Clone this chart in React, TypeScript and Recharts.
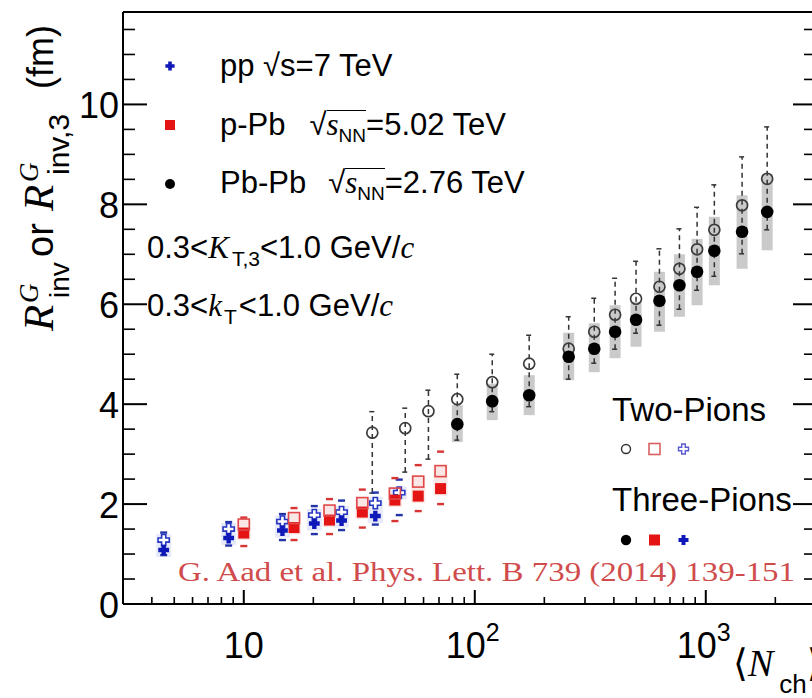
import React from 'react';
import { ComposedChart, Scatter, XAxis, YAxis, ErrorBar } from 'recharts';

const SANS = '"Liberation Sans", Arial, Helvetica, sans-serif';
const SERIF = '"Liberation Serif", "Times New Roman", serif';

// ---- Pb-Pb, sqrt(sNN) = 2.76 TeV ----
const pbMult = [36, 50, 63, 84, 119, 172, 255, 329, 405, 499, 630, 769, 917, 1089, 1436, 1844];
const pbTwoPion = [3.43, 3.52, 3.86, 4.1, 4.44, 4.81, 5.11, 5.45, 5.79, 6.11, 6.35, 6.71, 7.1, 7.49, 7.98, 8.51];
const pbTwoPionHi = [3.85, 3.92, 4.28, 4.6, 5.0, 5.38, 5.75, 6.12, 6.52, 6.86, 7.11, 7.51, 7.94, 8.39, 8.95, 9.55];
const pbTwoPionLo = [2.22, 2.64, 2.9, 3.6, 4.06, 4.18, 4.95, 5.11, 5.45, 5.69, 6.07, 6.38, 6.65, 7.07, 7.45, 7.85];
const pbThreeMult = [84, 119, 172, 255, 329, 405, 499, 630, 769, 917, 1089, 1436, 1844];
const pbThreePion = [3.6, 4.06, 4.18, 4.95, 5.11, 5.45, 5.69, 6.07, 6.38, 6.65, 7.07, 7.45, 7.85];
const pbThreePionLo = [3.28, 3.85, 3.95, 4.5, 4.82, 5.1, 5.42, 5.58, 5.9, 6.28, 6.56, 7.01, 7.49];
const pbSysLo = [3.24, 3.68, 3.78, 4.48, 4.64, 4.92, 5.15, 5.45, 5.75, 5.98, 6.38, 6.71, 7.08];
const pbSysHi = [3.98, 4.41, 4.58, 5.43, 5.62, 5.98, 6.05, 6.65, 7.0, 7.31, 7.75, 8.18, 8.6];

// ---- p-Pb, sqrt(sNN) = 5.02 TeV ----
const ppbMult = [10, 16.5, 23.5, 32.6, 45.1, 56.9, 71.1];
const ppbTwoPion = [1.59, 1.72, 1.87, 2.02, 2.21, 2.45, 2.66];
const ppbThreePion = [1.42, 1.53, 1.68, 1.84, 2.08, 2.16, 2.31];
const ppbCapHi = [1.73, 1.92, 2.1, 2.29, 2.52, 2.78, 3.05];
const ppbCapLo = [1.16, 1.28, 1.4, 1.53, 1.66, 1.86, 2.0];

// ---- pp, sqrt(s) = 7 TeV ----
const ppMult = [4.5, 8.6, 14.7, 20.2, 26.5, 37.1, 47.1];
const ppTwoPion = [1.28, 1.5, 1.65, 1.78, 1.84, 2.02, 2.23];
const ppThreeMult = [4.5, 8.6, 14.7, 20.2, 26.5, 37.1];
const ppThreePion = [1.08, 1.32, 1.47, 1.61, 1.67, 1.76];
const ppCapHi = [1.43, 1.64, 1.8, 1.96, 2.07, 2.23, 2.49];
const ppCapLo = [0.98, 1.17, 1.28, 1.4, 1.48, 1.59, 1.78];

// ---- axes ----
const X_DOMAIN: [number, number] = [3, 3000];
const Y_DOMAIN: [number, number] = [0, 11.85];
const xMajorTicks = [10, 100, 1000];
const xMajorLabels = ['10', '10|2', '10|3'];
const xTicks = [4, 5, 6, 7, 8, 9, 10, 20, 30, 40, 50, 60, 70, 80, 90, 100, 200, 300, 400, 500, 600, 700, 800, 900, 1000, 2000];
const yTicks = [0, 0.5, 1, 1.5, 2, 2.5, 3, 3.5, 4, 4.5, 5, 5.5, 6, 6.5, 7, 7.5, 8, 8.5, 9, 9.5, 10, 10.5, 11, 11.5];
const yMajorTicks = [0, 2, 4, 6, 8, 10];
const yMajorLabels = ['0', '2', '4', '6', '8', '10'];

// ---- tables for the series ----
const pbTwoData = pbMult.map((n, i) => ({
  n,
  v: pbTwoPion[i],
  err: [pbTwoPion[i] - pbTwoPionLo[i], pbTwoPionHi[i] - pbTwoPion[i]],
}));
const pbThreeData = pbThreeMult.map((n, i) => ({
  n,
  v: pbThreePion[i],
  err: [pbThreePion[i] - pbThreePionLo[i], 0],
  sys: [pbThreePion[i] - pbSysLo[i], pbSysHi[i] - pbThreePion[i]],
}));
const ppbTwoData = ppbMult.map((n, i) => ({ n, v: ppbTwoPion[i] }));
const ppbThreeData = ppbMult.map((n, i) => ({ n, v: ppbThreePion[i] }));
const ppbCapData = [
  ...ppbMult.map((n, i) => ({ n, v: ppbCapHi[i] })),
  ...ppbMult.map((n, i) => ({ n, v: ppbCapLo[i] })),
];
const ppbHaloData = ppbMult.map((n, i) => ({
  n,
  v: ppbTwoPion[i],
  halo: [ppbTwoPion[i] - ppbThreePion[i] + 0.14, 0.1],
}));
const ppTwoData = ppMult.map((n, i) => ({ n, v: ppTwoPion[i] }));
const ppThreeData = ppThreeMult.map((n, i) => ({ n, v: ppThreePion[i] }));
const ppCapData = [
  ...ppMult.map((n, i) => ({ n, v: ppCapHi[i] })),
  ...ppMult.map((n, i) => ({ n, v: ppCapLo[i] })),
];
const ppHaloData = ppMult.map((n, i) => ({
  n,
  v: ppTwoPion[i],
  halo: [ppTwoPion[i] - (i < ppThreePion.length ? ppThreePion[i] : ppTwoPion[i]) + 0.14, 0.12],
}));

// ---- marker shapes ----
const crossPath = (cx: number, cy: number, a: number, t: number) =>
  `M${cx - t},${cy - a}H${cx + t}V${cy - t}H${cx + a}V${cy + t}H${cx + t}V${cy + a}H${cx - t}V${cy + t}H${cx - a}V${cy - t}H${cx - t}Z`;

const BLUE = '#0e18b8';
const RED = '#e41414';

const OpenCircle = (p: any) => (
  <circle cx={p.cx} cy={p.cy} r={5.5} fill="none" stroke="#3c3c3c" strokeWidth={1.7} />
);
const FilledCircle = (p: any) => <circle cx={p.cx} cy={p.cy} r={6.3} fill="#000" />;
const OpenSquare = (p: any) => (
  <rect x={p.cx - 5.5} y={p.cy - 5.5} width={11} height={11} fill="none" stroke="#e04848" strokeWidth={1.6} />
);
const FilledSquare = (p: any) => (
  <rect x={p.cx - 5.5} y={p.cy - 5.5} width={11} height={11} fill={RED} />
);
const OpenCross = (p: any) => (
  <path d={crossPath(p.cx, p.cy, 5.6, 2.1)} fill="#fff" stroke="#2636c0" strokeWidth={1.6} />
);
const FilledCross = (p: any) => <path d={crossPath(p.cx, p.cy, 5.4, 2.2)} fill={BLUE} />;
const BlueCap = (p: any) => (
  <line x1={p.cx - 3.5} x2={p.cx + 3.5} y1={p.cy} y2={p.cy} stroke="#2234a8" strokeWidth={2.4} />
);
const RedCap = (p: any) => (
  <line x1={p.cx - 3.5} x2={p.cx + 3.5} y1={p.cy} y2={p.cy} stroke="#d83434" strokeWidth={2.4} />
);
const NoMarker = () => <g />;

// ---- axis ticks (ROOT style, pointing into the frame) ----
const supLabel = (label: string) => {
  const [base, exp] = label.split('|');
  return { base, exp };
};

const BottomTick = (props: any) => {
  const { x, y, payload } = props;
  const idx = xMajorTicks.indexOf(payload.value);
  const major = idx >= 0;
  let label = null;
  if (major) {
    const { base, exp } = supLabel(xMajorLabels[idx]);
    label = (
      <text x={exp ? x - 2 : x} y={y + 54} textAnchor="middle" fontFamily={SANS} fontSize={36} fill="#000">
        {base}
        {exp ? (
          <tspan fontSize={25} dy={-17}>
            {exp}
          </tspan>
        ) : null}
      </text>
    );
  }
  return (
    <g>
      <line x1={x} x2={x} y1={y} y2={y - (major ? 14 : 7)} stroke="#000" strokeWidth={major ? 2 : 1.6} />
      {label}
    </g>
  );
};

const TopTick = (props: any) => {
  const { x, y, payload } = props;
  const major = xMajorTicks.indexOf(payload.value) >= 0;
  return <line x1={x} x2={x} y1={y} y2={y + (major ? 13 : 6)} stroke="#000" strokeWidth={major ? 2 : 1.6} />;
};

const LeftTick = (props: any) => {
  const { x, y, payload } = props;
  const idx = yMajorTicks.indexOf(payload.value);
  const major = idx >= 0;
  return (
    <g>
      <line x1={x} x2={x + (major ? 24 : 12)} y1={y} y2={y} stroke="#000" strokeWidth={major ? 2 : 1.6} />
      {major ? (
        <text x={x - 4} y={y + 14} textAnchor="end" fontFamily={SANS} fontSize={36} fill="#000">
          {yMajorLabels[idx]}
        </text>
      ) : null}
    </g>
  );
};

const RightTick = (props: any) => {
  const { x, y, payload } = props;
  const major = yMajorTicks.indexOf(payload.value) >= 0;
  return <line x1={x} x2={x - (major ? 23 : 12)} y1={y} y2={y} stroke="#000" strokeWidth={major ? 2 : 1.6} />;
};

const axisLine = { stroke: '#000', strokeWidth: 2 };

const sqrtRow = (left: number, baseline: number, lead: string, gap: number, value: string) => (
  <div
    style={{
      position: 'absolute',
      left,
      top: baseline - 30.8,
      fontFamily: SANS,
      fontSize: 31,
      lineHeight: '40px',
      whiteSpace: 'nowrap',
      color: '#000',
    }}
  >
    {lead}
    <span style={{ marginLeft: gap }}>√</span>
    <span
      style={{
        display: 'inline-block',
        lineHeight: '26px',
        borderTop: '1.5px solid #000',
        paddingTop: 1,
      }}
    >
      <span style={{ fontFamily: SERIF, fontStyle: 'italic' }}>s</span>
      <span style={{ position: 'relative', top: 7, fontSize: 19 }}>NN</span>
    </span>
    {value}
  </div>
);

export default function App() {
  return (
    <div
      style={{
        position: 'fixed',
        left: 0,
        top: 0,
        width: 812,
        height: 698,
        overflow: 'hidden',
        background: '#fff',
      }}
    >
      <ComposedChart width={830} height={698} margin={{ top: 0, right: 0, bottom: 0, left: 0 }}>
        <XAxis
          dataKey="n"
          type="number"
          scale="log"
          domain={X_DOMAIN}
          allowDataOverflow
          ticks={xTicks}
          interval={0}
          height={94}
          tickSize={0}
          tickMargin={0}
          tickLine={false}
          axisLine={axisLine}
          tick={BottomTick}
        />
        <XAxis
          xAxisId="top"
          orientation="top"
          type="number"
          scale="log"
          domain={X_DOMAIN}
          allowDataOverflow
          ticks={xTicks}
          interval={0}
          height={12}
          tickSize={0}
          tickMargin={0}
          tickLine={false}
          axisLine={axisLine}
          tick={TopTick}
        />
        <YAxis
          dataKey="v"
          type="number"
          domain={Y_DOMAIN}
          allowDataOverflow
          ticks={yTicks}
          interval={0}
          width={123}
          tickSize={0}
          tickMargin={0}
          tickLine={false}
          axisLine={axisLine}
          tick={LeftTick}
        />
        <YAxis
          yAxisId="right"
          orientation="right"
          type="number"
          domain={Y_DOMAIN}
          allowDataOverflow
          ticks={yTicks}
          interval={0}
          width={14}
          tickSize={0}
          tickMargin={0}
          tickLine={false}
          axisLine={false}
          tick={RightTick}
        />

        {/* systematic bands */}
        <Scatter data={pbThreeData} dataKey="v" shape={NoMarker} isAnimationActive={false}>
          <ErrorBar dataKey="sys" direction="y" width={0} stroke="#cacaca" strokeWidth={11} isAnimationActive={false} />
        </Scatter>
        <Scatter data={ppbHaloData} dataKey="v" shape={NoMarker} isAnimationActive={false}>
          <ErrorBar dataKey="halo" direction="y" width={0} stroke="#fbe6e6" strokeWidth={14} isAnimationActive={false} />
        </Scatter>
        <Scatter data={ppHaloData} dataKey="v" shape={NoMarker} isAnimationActive={false}>
          <ErrorBar dataKey="halo" direction="y" width={0} stroke="#e6e9fa" strokeWidth={15} isAnimationActive={false} />
        </Scatter>

        {/* Pb-Pb bars */}
        <Scatter data={pbTwoData} dataKey="v" shape={NoMarker} isAnimationActive={false}>
          <ErrorBar
            dataKey="err"
            direction="y"
            width={3}
            stroke="#333"
            strokeWidth={1.5}
            strokeDasharray="5 4"
            isAnimationActive={false}
          />
        </Scatter>
        <Scatter data={pbThreeData} dataKey="v" shape={NoMarker} isAnimationActive={false}>
          <ErrorBar
            dataKey="err"
            direction="y"
            width={3}
            stroke="#333"
            strokeWidth={1.5}
            strokeDasharray="5 4"
            isAnimationActive={false}
          />
        </Scatter>

        {/* pp and p-Pb bar ends */}
        <Scatter data={ppCapData} dataKey="v" shape={BlueCap} isAnimationActive={false} />
        <Scatter data={ppbCapData} dataKey="v" shape={RedCap} isAnimationActive={false} />

        {/* markers */}
        <Scatter data={ppTwoData} dataKey="v" shape={OpenCross} isAnimationActive={false} />
        <Scatter data={ppThreeData} dataKey="v" shape={FilledCross} isAnimationActive={false} />
        <Scatter data={ppbThreeData} dataKey="v" shape={FilledSquare} isAnimationActive={false} />
        <Scatter data={ppbTwoData} dataKey="v" shape={OpenSquare} isAnimationActive={false} />
        <Scatter data={pbTwoData} dataKey="v" shape={OpenCircle} isAnimationActive={false} />
        <Scatter data={pbThreeData} dataKey="v" shape={FilledCircle} isAnimationActive={false} />
      </ComposedChart>

      <svg
        width={812}
        height={698}
        style={{ position: 'absolute', left: 0, top: 0, pointerEvents: 'none' }}
      >
        {/* y-axis title, read bottom to top */}
        <text transform="translate(53,333) rotate(-90)" fontFamily={SANS} fontSize={38} fill="#000">
          <tspan x={2} y={0} fontFamily={SERIF} fontStyle="italic" fontSize={43}>R</tspan>
          <tspan x={30} y={-15} fontFamily={SERIF} fontStyle="italic" fontSize={27}>G</tspan>
          <tspan x={35} y={16} fontSize={28}>inv</tspan>
          <tspan x={76} y={0}>or</tspan>
          <tspan x={122} y={0} fontFamily={SERIF} fontStyle="italic" fontSize={43}>R</tspan>
          <tspan x={151} y={-15} fontFamily={SERIF} fontStyle="italic" fontSize={27}>G</tspan>
          <tspan x={158} y={16} fontSize={30}>inv,3</tspan>
          <tspan x={244} y={0} fontSize={36}>(fm)</tspan>
        </text>

        {/* x-axis title */}
        <text x={733} y={676} fontSize={38} fill="#000">
          <tspan fontFamily='"DejaVu Sans", sans-serif' fontWeight={300}>⟨</tspan>
          <tspan fontFamily={SERIF} fontStyle="italic">N</tspan>
          <tspan fontFamily={SANS} fontSize={26} dy={17} dx={6}>ch</tspan>
          <tspan fontFamily='"DejaVu Sans", sans-serif' dy={-17}>⟩</tspan>
        </text>

        {/* reference */}
        <text
          x={178}
          y={581}
          fontFamily={SERIF}
          fontSize={28}
          fill="#d04c4c"
          textLength={617}
          lengthAdjust="spacingAndGlyphs"
        >
          G. Aad et al. Phys. Lett. B 739 (2014) 139-151
        </text>

        {/* collision-system legend */}
        <path d={crossPath(170, 66, 4.6, 1.8)} fill={BLUE} />
        <rect x={165} y={120} width={10} height={10} fill={RED} />
        <circle cx={170} cy={184} r={5} fill="#000" />

        {/* kT ranges */}
        <text x={147} y={258} fontFamily={SANS} fontSize={31} fill="#000" style={{ whiteSpace: 'pre' }}>
          0.3&lt;
          <tspan fontFamily={SERIF} fontStyle="italic">K</tspan>
          <tspan fontSize={21} dy={8} dx={3}>T,3</tspan>
          <tspan dy={-8}>&lt;1.0 GeV/</tspan>
          <tspan fontFamily={SERIF} fontStyle="italic">c</tspan>
        </text>
        <text x={147} y={316} fontFamily={SANS} fontSize={31} fill="#000" style={{ whiteSpace: 'pre' }}>
          0.3&lt;
          <tspan fontFamily={SERIF} fontStyle="italic">k</tspan>
          <tspan fontSize={21} dy={8} dx={2}>T</tspan>
          <tspan dy={-8} dx={2}>&lt;1.0 GeV/</tspan>
          <tspan fontFamily={SERIF} fontStyle="italic">c</tspan>
        </text>

        {/* pion-multiplet legend */}
        <text x={612} y={421} fontFamily={SANS} fontSize={33} fill="#000">Two-Pions</text>
        <circle cx={626} cy={449} r={4.5} fill="none" stroke="#333" strokeWidth={1.4} />
        <rect x={649} y={443.5} width={11} height={11} fill="none" stroke="#d86060" strokeWidth={1.6} />
        <path d={crossPath(683.5, 449, 5, 1.8)} fill="#fff" stroke="#5a5ad0" strokeWidth={1.4} />
        <text x={612} y={511} fontFamily={SANS} fontSize={33} fill="#000">Three-Pions</text>
        <circle cx={626} cy={540} r={5.2} fill="#000" />
        <rect x={649} y={534.5} width={11} height={11} fill={RED} />
        <path d={crossPath(683.5, 540, 5, 2)} fill={BLUE} />
      </svg>

      <div
        style={{
          position: 'absolute',
          left: 220,
          top: 77 - 30.8,
          fontFamily: SANS,
          fontSize: 31,
          lineHeight: '40px',
          whiteSpace: 'nowrap',
          color: '#000',
        }}
      >
        pp √s=7 TeV
      </div>
      {sqrtRow(220, 136, 'p-Pb', 24, '=5.02 TeV')}
      {sqrtRow(220, 193.5, 'Pb-Pb', 22, '=2.76 TeV')}
    </div>
  );
}
